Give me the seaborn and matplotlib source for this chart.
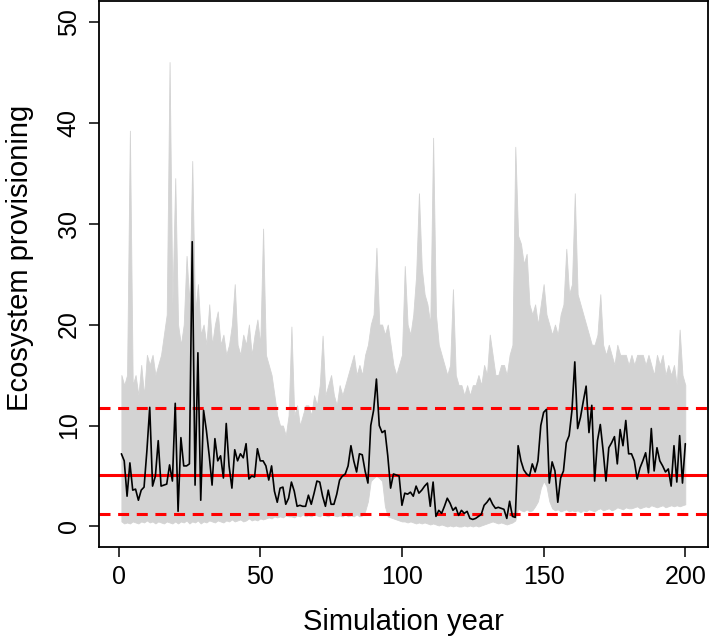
import numpy as np
import matplotlib
matplotlib.use("Agg")
import matplotlib.pyplot as plt
import seaborn as sns

# mean line over all simulations, years 1..200
provisioning = [
    7.2, 6.5, 3.0, 6.3, 3.6, 3.7, 2.6, 3.6, 3.9, 7.5,
    11.8, 4.0, 5.0, 8.5, 4.0, 4.1, 4.2, 6.1, 4.5, 12.2,
    1.5, 8.8, 6.0, 6.0, 6.2, 28.2, 4.1, 17.2, 2.6, 11.5,
    9.5, 7.0, 4.1, 8.7, 6.5, 7.0, 4.8, 10.2, 6.0, 3.8,
    7.6, 6.5, 7.2, 6.8, 8.2, 4.7, 5.0, 4.9, 7.7, 6.5,
    6.5, 6.0, 4.6, 6.0, 3.5, 2.4, 3.8, 3.9, 2.2, 2.8,
    4.4, 3.5, 2.0, 2.1, 2.0, 2.0, 3.1, 2.2, 3.3, 4.5,
    4.4, 3.0, 2.0, 3.6, 2.2, 2.2, 3.2, 4.6, 5.0, 5.2,
    6.0, 8.0, 6.5, 5.4, 7.2, 7.1, 5.5, 4.3, 10.0, 11.5,
    14.6, 10.0, 9.3, 9.5, 7.0, 3.8, 5.2, 5.1, 5.0, 2.1,
    3.3, 3.2, 3.4, 3.0, 4.0, 3.3, 3.6, 4.0, 4.3, 2.0,
    4.4, 1.0, 1.6, 1.3, 2.0, 2.8, 2.3, 1.6, 1.9, 1.1,
    1.6, 1.3, 1.5, 0.8, 0.7, 0.8, 1.0, 1.2, 2.1, 2.4,
    2.8, 2.2, 1.8, 1.9, 1.8, 1.7, 0.8, 2.5, 1.0, 0.9,
    8.0, 6.5, 5.6, 5.2, 5.0, 6.2, 5.4, 6.5, 10.0, 11.3,
    11.6, 4.3, 6.4, 5.5, 2.4, 4.8, 5.5, 8.3, 9.0, 11.5,
    16.3, 9.7, 10.8, 12.4, 13.9, 9.3, 12.0, 4.5, 8.5, 10.1,
    7.5, 4.5, 7.8, 8.3, 8.9, 6.2, 9.6, 8.0, 10.5, 7.2,
    7.2, 6.5, 4.7, 5.8, 6.5, 7.3, 5.3, 9.7, 5.5, 7.8,
    6.5, 6.0, 5.4, 5.7, 4.0, 8.0, 4.4, 9.0, 4.3, 8.2,
]

# upper / lower edge of the grey bundle of simulation runs
sim_upper = [
    15, 14, 15, 39.2, 14, 15, 13, 16, 13, 17,
    16, 17, 15, 16, 17, 19, 21, 46, 22, 34.5,
    20, 18, 20, 26.8, 22, 36.2, 21, 24, 19, 20,
    18, 22, 18, 20, 21.3, 18, 19, 17, 18, 20,
    24, 18, 17, 19, 18, 20, 17, 19, 20.5, 18,
    29.5, 17, 16, 15, 13, 11, 10, 10, 9, 11,
    19.8, 11, 12, 10, 11, 12, 12, 11, 13, 12,
    14, 18.9, 13, 14, 15, 13, 12, 14, 13, 14,
    15, 16, 17, 15, 16, 15, 17, 18, 20, 21,
    27.6, 20, 20, 19, 20, 18, 16, 15, 16, 17,
    25.8, 20, 19, 21, 24.8, 33, 25.6, 23, 22, 20,
    38.5, 21, 18, 17, 16, 15, 16, 23.5, 15, 14,
    14, 13, 14, 13, 14, 14, 15, 14, 16, 15,
    19, 17, 15, 15, 16, 16, 15, 17, 18, 37.6,
    28.8, 28, 26, 27, 22, 21, 22, 20, 22, 24,
    21, 20, 19, 20, 19, 21, 22, 27.5, 23, 24,
    33, 23, 22, 21, 20, 19, 18, 18, 19, 23,
    18, 17, 18, 17, 16, 18, 17, 17, 17, 16,
    17, 16, 17, 17, 17, 16, 17, 16, 15, 17,
    16, 17, 15, 16, 15, 16, 14, 19.5, 15, 14,
]
sim_lower = [
    0.5, 0.3, 0.4, 0.3, 0.5, 0.4, 0.3, 0.5, 0.4, 0.6,
    0.4, 0.5, 0.3, 0.5, 0.4, 0.3, 0.5, 0.4, 0.3, 0.5,
    0.3, 0.5, 0.4, 0.6, 0.3, 0.5, 0.4, 0.6, 0.3, 0.5,
    0.4, 0.6, 0.5, 0.4, 0.6, 0.5, 0.4, 0.6, 0.5, 0.7,
    0.5, 0.6, 0.7, 0.5, 0.6, 0.8, 0.6, 0.7, 0.6, 0.8,
    0.7, 0.8, 0.9, 0.8, 1.0, 0.9, 1.0, 0.9, 1.1, 1.0,
    1.0, 0.9, 1.1, 1.0, 1.2, 1.0, 1.1, 1.0, 1.2, 1.1,
    1.0, 1.2, 1.1, 1.0, 1.2, 1.1, 1.0, 1.1, 1.0, 1.2,
    1.0, 1.1, 1.0, 1.2, 1.0, 1.1, 1.5, 2.5, 4.5, 4.8,
    5.0, 4.8, 4.5, 2.0, 1.0, 0.9, 0.8, 0.7, 0.6, 0.5,
    0.5, 0.4, 0.5, 0.4, 0.3, 0.4, 0.3, 0.4, 0.3, 0.2,
    0.3, 0.2, 0.1, 0.2, 0.1, 0.0, 0.1, 0.0, 0.1, 0.0,
    0.0, 0.1, 0.0, 0.1, 0.0, 0.1, 0.0, 0.1, 0.2, 0.3,
    0.4, 0.5, 0.4, 0.3, 0.4, 0.3, 0.2, 0.3, 0.4, 0.6,
    1.8, 1.6, 1.5, 1.7, 1.5, 1.6, 2.0, 2.5, 3.8, 4.5,
    4.0, 2.5, 1.8, 1.6, 1.7, 1.5, 1.6, 1.7, 1.5, 1.6,
    1.5, 1.6, 1.4, 1.6, 1.5, 1.7, 1.6, 1.5, 1.7, 1.8,
    1.6, 1.7, 1.8, 1.6, 1.7, 1.9, 1.8, 1.7, 1.9, 1.8,
    1.8, 1.9, 2.0, 1.8, 1.9, 2.0, 1.9, 2.1, 2.0, 1.9,
    2.0, 2.1, 1.9, 2.0, 2.1, 2.0, 2.1, 2.0, 2.1, 2.2,
]

ref_mean = 5.13
ref_low = 1.21
ref_high = 11.71

x_ticks = [0, 50, 100, 150, 200]
y_ticks = [0, 10, 20, 30, 40, 50]

sns.set_style("white")
plt.rcParams['font.family'] = ['Liberation Sans', 'DejaVu Sans']
plt.rcParams['text.color'] = 'black'
plt.rcParams['axes.labelcolor'] = 'black'
plt.rcParams['xtick.color'] = 'black'
plt.rcParams['ytick.color'] = 'black'

years = np.arange(1, len(provisioning) + 1)
sim_years = np.arange(1, len(sim_upper) + 1)

fig = plt.figure(figsize=(7.09, 6.40), dpi=100)
ax = fig.add_axes([0.1394, 0.1458, 0.859, 0.852])

ax.fill_between(sim_years, sim_lower, sim_upper, color="#d3d3d3", lw=0.6,
                edgecolor="#d3d3d3", zorder=1)

ax.axhline(ref_mean, color="red", lw=2.2, zorder=2)
for lvl in (ref_low, ref_high):
    ax.axhline(lvl, color="red", lw=2.2, dashes=(3.6, 2.5), zorder=2)

sns.lineplot(x=years, y=provisioning, color="black", lw=1.2, ax=ax, zorder=3)

ax.set_xlim(-6.96, 207.96)
ax.set_ylim(-2, 52)
ax.set_xticks(x_ticks)
ax.set_yticks(y_ticks)
ax.set_yticklabels([str(v) for v in y_ticks], rotation=90, va="center")
ax.tick_params(axis="both", direction="out", length=7, width=1.1,
               labelsize=18, colors="black", bottom=True, left=True)
ax.tick_params(axis="x", pad=6)
ax.tick_params(axis="y", pad=6)

for sp in ax.spines.values():
    sp.set_visible(True)
    sp.set_color("black")
    sp.set_linewidth(1.3)

ax.set_xlabel("Simulation year", fontsize=21, labelpad=14, color="black")
ax.set_ylabel("Ecosystem provisioning", fontsize=21, color="black")
ax.yaxis.set_label_coords(-0.106, 0.53)

fig.savefig("out.png", dpi=100)
